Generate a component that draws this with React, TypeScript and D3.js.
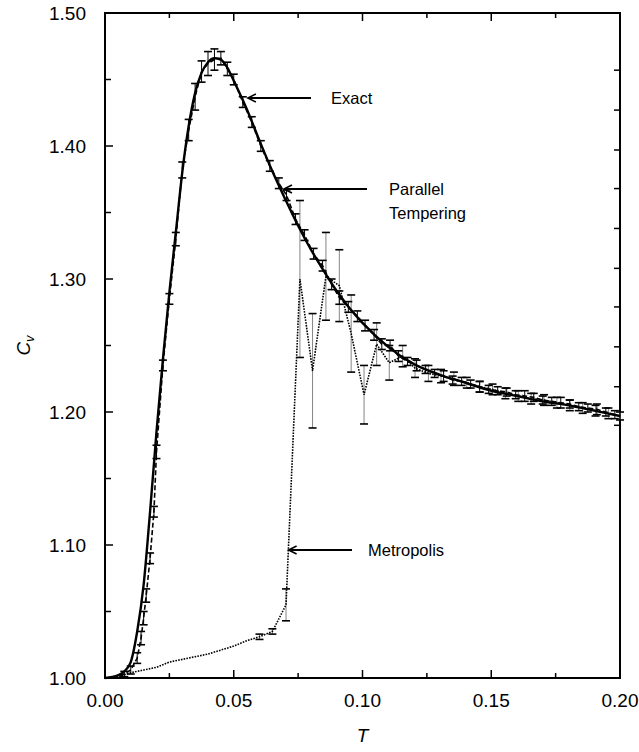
import React from "react";
import * as d3 from "d3";

// ---------- data ----------
const exactT = [0, 0.005, 0.0075, 0.01, 0.0125, 0.015, 0.0175, 0.02, 0.0225, 0.025, 0.0275, 0.03, 0.0325, 0.035, 0.0375, 0.04, 0.0425, 0.045, 0.0475, 0.05, 0.055, 0.06, 0.065, 0.07, 0.075, 0.08, 0.085, 0.09, 0.095, 0.1, 0.11, 0.12, 0.13, 0.14, 0.15, 0.16, 0.17, 0.18, 0.19, 0.2];
const exactC = [1.0, 1.002, 1.005, 1.012, 1.035, 1.07, 1.125, 1.185, 1.24, 1.29, 1.335, 1.38, 1.415, 1.44, 1.455, 1.463, 1.466, 1.465, 1.459, 1.449, 1.428, 1.404, 1.381, 1.36, 1.34, 1.322, 1.306, 1.291, 1.278, 1.267, 1.249, 1.236, 1.228, 1.222, 1.216, 1.212, 1.208, 1.205, 1.201, 1.197];

const ptT = [0, 0.0025, 0.005, 0.0075, 0.01, 0.0125, 0.014, 0.015, 0.016, 0.0175, 0.019, 0.02, 0.0225, 0.025, 0.0275, 0.03, 0.0325, 0.035, 0.0375, 0.04, 0.0425, 0.045, 0.0475, 0.05, 0.0535, 0.057, 0.0605, 0.064, 0.0675, 0.0705, 0.074, 0.0775, 0.081, 0.0845, 0.088, 0.091, 0.0945, 0.098, 0.101, 0.1045, 0.1075, 0.1107, 0.114, 0.1175, 0.121, 0.1245, 0.128, 0.1315, 0.135, 0.1385, 0.142, 0.1455, 0.149, 0.1525, 0.156, 0.1595, 0.163, 0.1665, 0.17, 0.1735, 0.177, 0.1805, 0.184, 0.1875, 0.191, 0.1945, 0.198];
const ptC = [1.0, 1.0, 1.001, 1.003, 1.006, 1.015, 1.03, 1.045, 1.062, 1.09, 1.125, 1.17, 1.235, 1.285, 1.33, 1.382, 1.412, 1.437, 1.456, 1.462, 1.465, 1.466, 1.458, 1.45, 1.433, 1.418, 1.4, 1.385, 1.372, 1.363, 1.345, 1.333, 1.319, 1.31, 1.296, 1.286, 1.279, 1.272, 1.265, 1.258, 1.251, 1.25, 1.242, 1.238, 1.235, 1.232, 1.229, 1.227, 1.224, 1.223, 1.221, 1.219, 1.217, 1.216, 1.215, 1.213, 1.212, 1.211, 1.209, 1.208, 1.207, 1.206, 1.204, 1.203, 1.202, 1.2, 1.198];
const ptErr = [0, 0.001, 0.001, 0.002, 0.003, 0.004, 0.005, 0.005, 0.005, 0.004, 0.004, 0.005, 0.004, 0.004, 0.005, 0.006, 0.008, 0.01, 0.008, 0.009, 0.008, 0.005, 0.005, 0.004, 0.004, 0.004, 0.004, 0.004, 0.004, 0.004, 0.004, 0.004, 0.004, 0.004, 0.004, 0.005, 0.004, 0.004, 0.004, 0.004, 0.004, 0.004, 0.004, 0.003, 0.004, 0.003, 0.003, 0.004, 0.003, 0.003, 0.003, 0.004, 0.003, 0.003, 0.003, 0.003, 0.004, 0.003, 0.003, 0.003, 0.004, 0.003, 0.003, 0.003, 0.004, 0.003, 0.003];

const metT = [0, 0.005, 0.01, 0.015, 0.02, 0.025, 0.03, 0.035, 0.04, 0.045, 0.05, 0.055, 0.06, 0.065, 0.0703, 0.0757, 0.0806, 0.0858, 0.091, 0.0956, 0.1006, 0.1055, 0.1104, 0.1156, 0.1204, 0.1256, 0.1305, 0.1355, 0.1405, 0.1455, 0.1505, 0.1555, 0.1605, 0.1655, 0.1705, 0.1755, 0.1805, 0.1855, 0.1905, 0.1955, 0.2];
const metC = [1.0, 1.001, 1.004, 1.006, 1.008, 1.012, 1.014, 1.016, 1.018, 1.021, 1.024, 1.028, 1.031, 1.035, 1.055, 1.3, 1.231, 1.302, 1.295, 1.259, 1.213, 1.251, 1.237, 1.242, 1.233, 1.229, 1.227, 1.225, 1.222, 1.219, 1.217, 1.214, 1.212, 1.21, 1.209, 1.207, 1.205, 1.203, 1.201, 1.199, 1.197];
const metErr = [0, 0.001, 0.001, 0.001, 0.001, 0.001, 0.001, 0.001, 0.001, 0.001, 0.001, 0.001, 0.002, 0.002, 0.012, 0.059, 0.043, 0.033, 0.027, 0.029, 0.022, 0.016, 0.013, 0.008, 0.007, 0.006, 0.005, 0.005, 0.004, 0.004, 0.004, 0.004, 0.004, 0.004, 0.004, 0.004, 0.004, 0.004, 0.004, 0.004, 0.003];

const xTickLabels = [0, 0.05, 0.1, 0.15, 0.2];
const yTickLabels = [1.0, 1.1, 1.2, 1.3, 1.4, 1.5];
// right-hand frame ticks (as read off the reference; not aligned with the left axis)
const rightTicks = [1.457, 1.427, 1.397, 1.368, 1.338, 1.308, 1.279, 1.249, 1.219, 1.19];

// ---------- layout ----------
const W = 639;
const H = 752;
const L = 105, R = 620, TOP = 13, BOT = 678;

export default function App() {
  const x = d3.scaleLinear().domain([0, 0.2]).range([L, R]);
  const y = d3.scaleLinear().domain([1.0, 1.5]).range([BOT, TOP]);

  const exact = exactT.map((t, i) => [t, exactC[i]] as [number, number]);
  const pt = ptT.map((t, i) => ({ t, c: ptC[i], e: ptErr[i] }));
  const met = metT.map((t, i) => ({ t, c: metC[i], e: metErr[i] }));

  const exactLine = d3.line<[number, number]>().x(d => x(d[0])).y(d => y(d[1])).curve(d3.curveMonotoneX);
  const ptLine = d3.line<any>().x(d => x(d.t)).y(d => y(d.c));

  const xMinor = d3.range(0, 0.2001, 0.025);
  const yMinor = d3.range(1.0, 1.5001, 0.05);
  const font = "'Liberation Sans', Arial, Helvetica, sans-serif";

  const errBars = (data: any[], cls: string, lineColor: string, lw: number) =>
    data.filter(d => d.e > 0.0015).map((d, i) => (
      <g key={cls + i}>
        <line x1={x(d.t)} x2={x(d.t)} y1={y(d.c - d.e)} y2={y(d.c + d.e)} stroke={lineColor} strokeWidth={lw} />
        <line x1={x(d.t) - 4} x2={x(d.t) + 4} y1={y(d.c - d.e)} y2={y(d.c - d.e)} stroke="#000" strokeWidth={1.6} />
        <line x1={x(d.t) - 4} x2={x(d.t) + 4} y1={y(d.c + d.e)} y2={y(d.c + d.e)} stroke="#000" strokeWidth={1.6} />
      </g>
    ));

  const arrow = (x1: number, x2: number, yy: number, k: string) => (
    <g key={k}>
      <line x1={x1} x2={x2} y1={yy} y2={yy} stroke="#000" strokeWidth={2} />
      <path d={`M${x2 + 8},${yy - 4} L${x2},${yy} L${x2 + 8},${yy + 4}`} fill="none" stroke="#000" strokeWidth={1.6} />
    </g>
  );

  return (
    <svg width={W} height={H} style={{ position: "absolute", left: 0, top: 0, background: "#fff" }} fontFamily={font}>
      {/* frame */}
      <rect x={L} y={TOP} width={R - L} height={BOT - TOP} fill="none" stroke="#000" strokeWidth={2} />
      {/* x ticks bottom/top */}
      {xMinor.map((t, i) => {
        const major = Math.abs(t / 0.05 - Math.round(t / 0.05)) < 1e-6;
        const len = major ? 8 : 5;
        return (
          <g key={"xt" + i}>
            <line x1={x(t)} x2={x(t)} y1={BOT} y2={BOT - len} stroke="#000" strokeWidth={1.5} />
            <line x1={x(t)} x2={x(t)} y1={TOP} y2={TOP + len} stroke="#000" strokeWidth={1.5} />
          </g>
        );
      })}
      {/* y ticks left */}
      {yMinor.map((c, i) => {
        const major = Math.abs(c / 0.1 - Math.round(c / 0.1)) < 1e-6;
        const len = major ? 8 : 6;
        return <line key={"yt" + i} x1={L} x2={L + len} y1={y(c)} y2={y(c)} stroke="#000" strokeWidth={1.5} />;
      })}
      {/* right frame ticks */}
      {rightTicks.map((c, i) => (
        <line key={"rt" + i} x1={R} x2={R - 6} y1={y(c)} y2={y(c)} stroke="#000" strokeWidth={1.5} />
      ))}
      {/* tick labels */}
      {xTickLabels.map((t, i) => (
        <text key={"xl" + i} x={x(t)} y={BOT + 29} fontSize={19} textAnchor="middle">{t.toFixed(2)}</text>
      ))}
      {yTickLabels.map((c, i) => (
        <text key={"yl" + i} x={L - 19} y={y(c) + 7} fontSize={19} textAnchor="end">{c.toFixed(2)}</text>
      ))}
      {/* axis titles */}
      <text x={x(0.1)} y={742} fontSize={19} fontStyle="italic" textAnchor="middle">T</text>
      <text transform={`translate(30,${y(1.25)}) rotate(-90)`} fontSize={19} textAnchor="middle">
        <tspan fontStyle="italic">C</tspan>
        <tspan fontStyle="italic" fontSize={13} dy={4}>v</tspan>
      </text>

      {/* error bars */}
      {errBars(met, "m", "#777", 0.9)}
      {errBars(pt, "p", "#000", 1)}

      {/* metropolis dotted */}
      <path d={ptLine(met) || ""} fill="none" stroke="#000" strokeWidth={1.6} strokeDasharray="1.6,1.2" />
      {/* parallel tempering dashed */}
      <path d={ptLine(pt) || ""} fill="none" stroke="#000" strokeWidth={1.6} strokeDasharray="5,2.5" />
      {/* exact solid */}
      <path d={exactLine(exact) || ""} fill="none" stroke="#000" strokeWidth={2.4} />

      {/* annotations */}
      {arrow(311, x(0.0555), 98, "a1")}
      <text x={331} y={104} fontSize={16.5}>Exact</text>
      {arrow(367, x(0.0695), 189, "a2")}
      <text x={389} y={195} fontSize={16.5}>Parallel</text>
      <text x={389} y={219} fontSize={16.5}>Tempering</text>
      {arrow(352, x(0.0713), 550, "a3")}
      <text x={368} y={556} fontSize={16.5}>Metropolis</text>
    </svg>
  );
}
